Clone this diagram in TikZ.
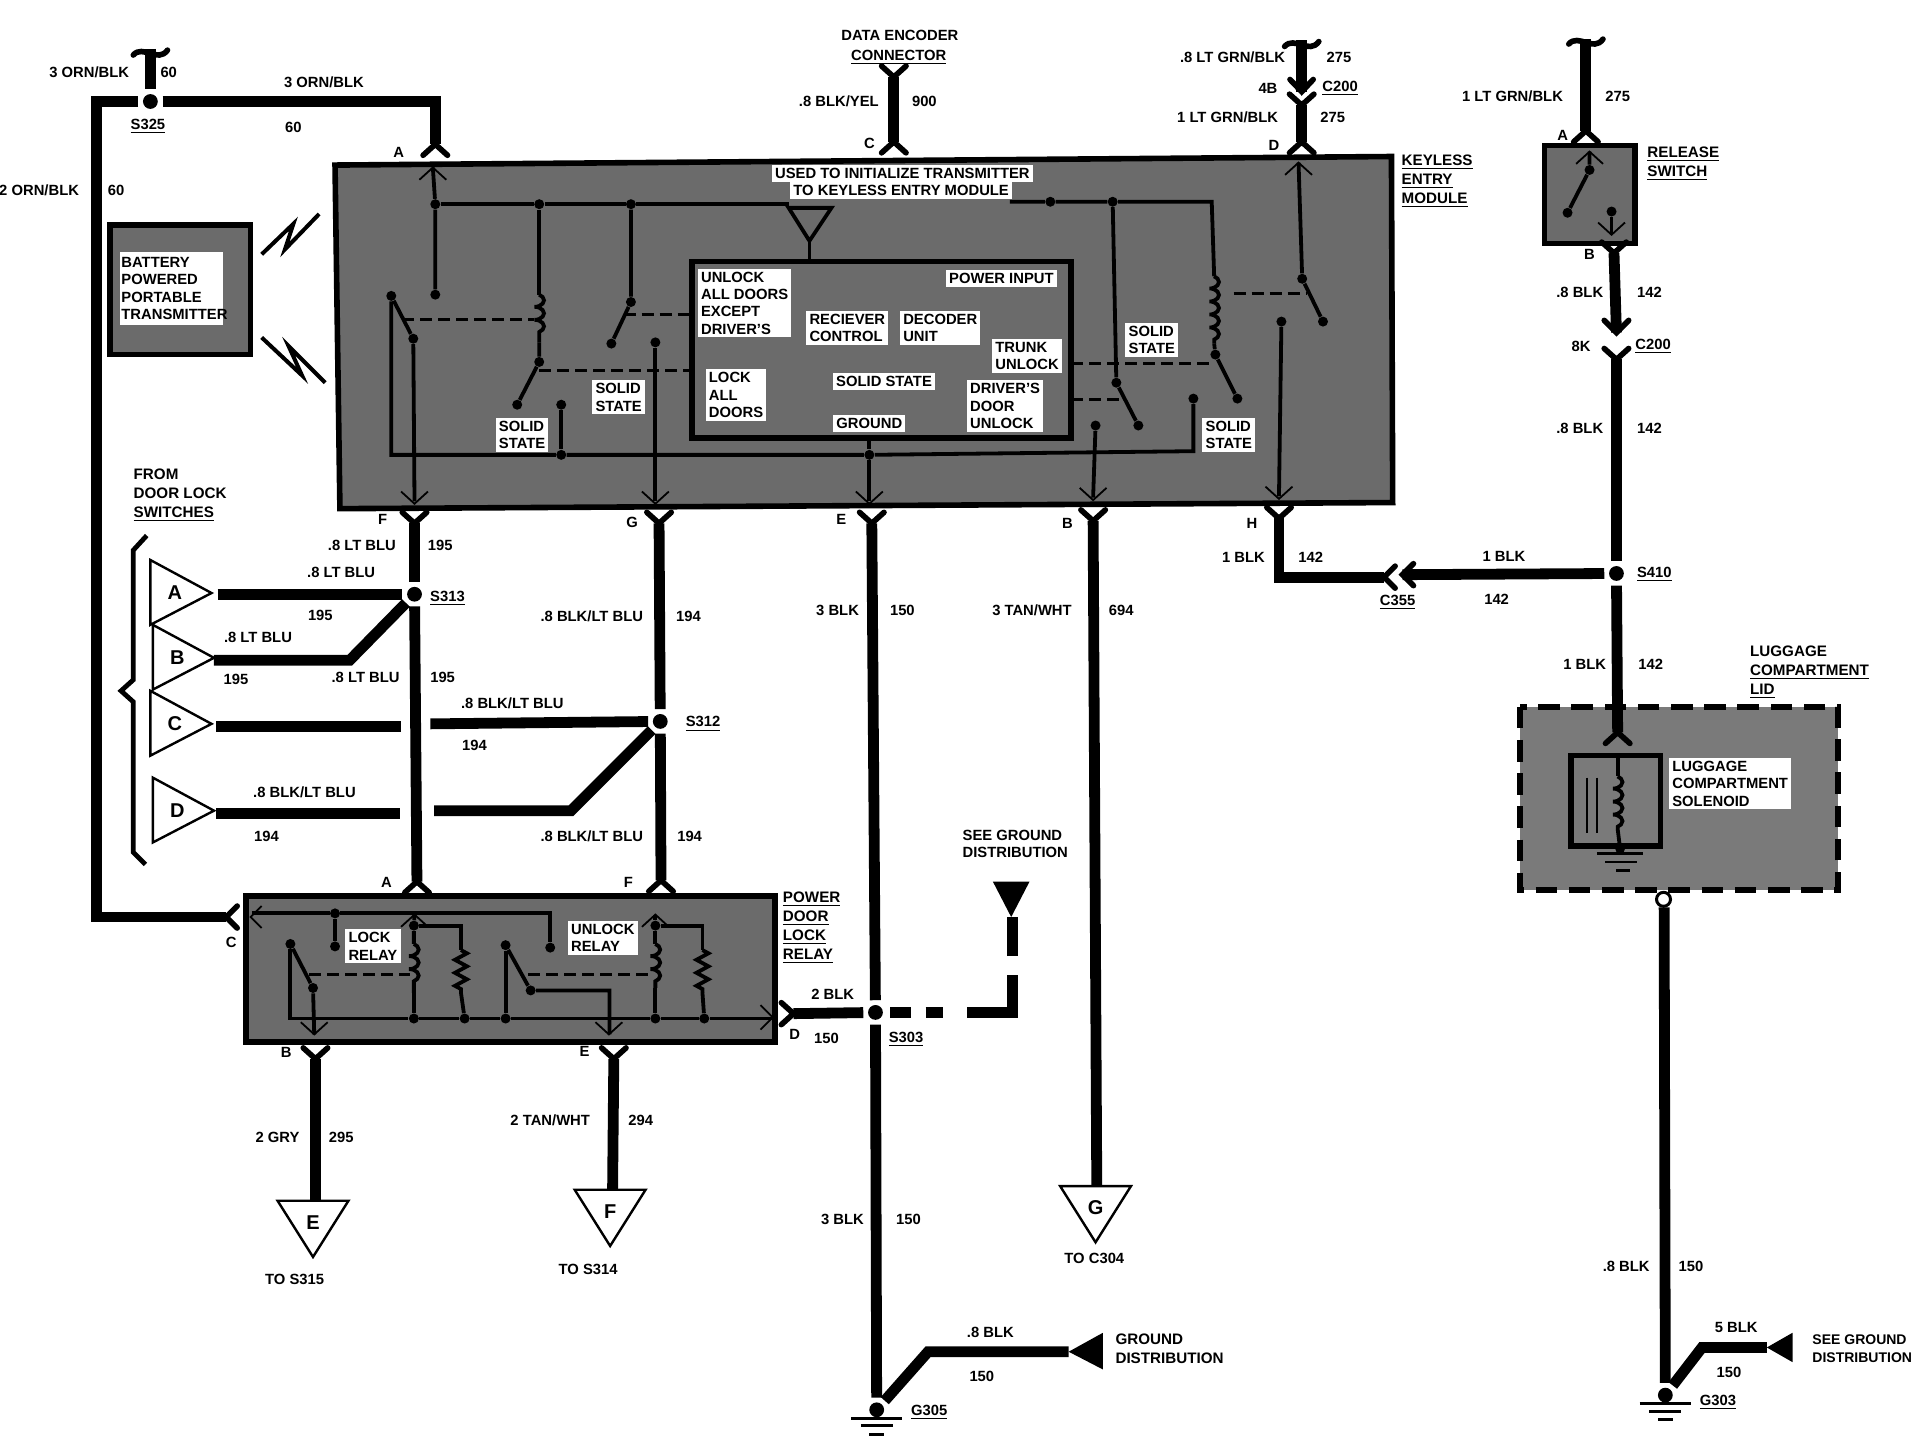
\documentclass[tikz,border=0pt]{standalone}
\usepackage{fontspec}
\setmainfont{Liberation Sans}
\usetikzlibrary{decorations.pathmorphing}

\begin{document}
\begin{tikzpicture}[x=0.6114pt,y=-0.6114pt]
        \tikzstyle{wire}=[line width=5.4pt]
        \tikzstyle{thinw}=[line width=1.9pt]
        \tikzstyle{dashw}=[line width=1.5pt, dash pattern=on 6pt off 3pt]
        \tikzstyle{prong}=[line width=2.8pt, line cap=round, line join=miter]
        \tikzstyle{inprong}=[line width=0.9pt]
        \tikzstyle{splice}=[circle, fill=black, minimum size=7.4pt, inner sep=0pt, outer sep=2.4pt]
        \tikzstyle{jct}=[circle, fill=black, minimum size=5pt, inner sep=0pt]
        \tikzstyle{modbox}=[draw, line width=2.8pt, fill=black!58]
        \tikzstyle{lbl}=[font=\fontsize{7.4}{8.6}\selectfont\bfseries, inner sep=0pt]
        \tikzstyle{wlbl}=[lbl, fill=white, align=left, inner sep=1.6pt]
        \tikzstyle{ttl}=[font=\fontsize{7.6}{9.5}\selectfont\bfseries, inner sep=0pt, align=left, anchor=west]
        \tikzstyle{toff}=[draw, line width=1.2pt, fill=white]
        \tikzstyle{coilw}=[thinw, decorate, decoration={coil, aspect=0.5, segment length=6.5pt, amplitude=2.4pt}]
        \tikzstyle{resw}=[thinw, decorate, decoration={zigzag, segment length=6.5pt, amplitude=3pt}]

        \useasboundingbox (0,0) rectangle (1567,1177.6);

        % Draw boxes
        \draw[modbox] (274,135) -- (1138,128) -- (1139,411) -- (278,416) -- cycle;
        \draw[modbox] (201,733) rectangle (634,852);
        \draw[modbox] (1263,119) rectangle (1337,199);
        \draw[modbox] (90,184) rectangle (205,290);
        \draw[line width=3pt, fill=black!52, dash pattern=on 10.8pt off 5.8pt] (1243,578) rectangle (1503,728);

        % Add prongs, wire coming from below
        \foreach \n/\x/\y in {pF/339/428, pG/539/428, pE/713/428, pB/894/426, pH/1046/424,
            pRelB/258/866, pRelE/502/866, pSwB/1320/207, pData/731/63, pCtA/1064.6/86, pCtB/1322/294} {
            \coordinate (\n) at (\x,\y);
            \draw[prong] (\x-10,\y-9) -- (\x,\y) -- (\x+10,\y-9);
        }
        % Add prongs, wire coming from above
        \foreach \n/\x/\y in {pA/356/118, pC/731/116, pD/1064.6/116, pRelA/341/721, pRelF/540.6/720,
            pSwA/1297/107, pLid/1323/599} {
            \coordinate (\n) at (\x,\y);
            \draw[prong] (\x-10,\y+9) -- (\x,\y) -- (\x+10,\y+9);
        }
        % Add arrow prongs, wire ends on the point
        \draw[prong] (1055,65) -- (1064.6,75) -- (1074,65);
        \coordinate (pCtT) at (1064.6,75);
        \draw[prong] (1312,262) -- (1322,272) -- (1332,262);
        \coordinate (pCbT) at (1322,272);
        \draw[prong] (1156,461) -- (1147,470) -- (1156,479);
        \coordinate (pLT) at (1147,470);
        \draw[prong] (1141,463) -- (1132,472) -- (1141,481);
        \coordinate (pLB) at (1132,472);
        \draw[prong] (194,741) -- (185,750) -- (194,759);
        \coordinate (pRelC) at (185,750);
        \draw[prong] (639,820) -- (649,829) -- (639,838);
        \coordinate (pRelD) at (649,829);

        % Thin prongs inside the boxes
        \foreach \x/\y in {339/412, 536/412, 711/412, 894/409, 1046/408, 257/846, 498/846, 1318/192}
            \draw[inprong] (\x-11,\y-10) -- (\x,\y) -- (\x+11,\y-10);
        \foreach \x/\y in {354/137, 1062/133, 339/748, 536/748, 1300/124}
            \draw[inprong] (\x-11,\y+10) -- (\x,\y) -- (\x+11,\y+10);
        \draw[inprong] (214,741) -- (205,750) -- (214,759);
        \draw[inprong] (622,822) -- (632,832) -- (622,842);

        % Splices
        \node[splice] (s325) at (123,83) {};
        \node[splice] (s313) at (339,486) {};
        \node[splice] (s312) at (540,590) {};
        \node[splice] (s303) at (716,828) {};
        \node[splice] (s410) at (1322,469) {};
        \node[splice] (g305) at (717,1153) {};
        \node[splice] (g303) at (1362,1141) {};

        % Free ends and bends of wires
        \coordinate (topA) at (123,40);
        \coordinate (topB) at (1064.6,33);
        \coordinate (topC) at (1297,32);
        \coordinate (cnrA) at (79,83);
        \coordinate (cnrB) at (79,750);
        \coordinate (cnrC) at (356,83);
        \coordinate (cnrH) at (1046,472);
        \coordinate (swA) at (178,486);
        \coordinate (swB) at (175,540);
        \coordinate (kneeB) at (286,540);
        \coordinate (swC) at (177,594);
        \coordinate (swCe) at (328,594);
        \coordinate (swCr) at (352,592);
        \coordinate (swD) at (177,665);
        \coordinate (swDe) at (327,665);
        \coordinate (swDr) at (355,663);
        \coordinate (kneeD) at (467,663);
        \coordinate (triE) at (258,982);
        \coordinate (triF) at (501,973);
        \coordinate (triG) at (897,970);
        \coordinate (kneeG) at (759,1105.5);
        \coordinate (triGd) at (874,1105.5);
        \coordinate (kneeH) at (1392,1102);
        \coordinate (triHd) at (1445,1102);
        \coordinate (lidEnd) at (1361,742);

        % Draw wires
        \draw[wire] (topA) -- (s325);
        \draw[wire] (s325) -- (cnrA) -- (cnrB) -- (pRelC);
        \draw[wire] (s325) -- (cnrC) -- (pA);
        \draw[wire] (pData) -- (pC);
        \draw[wire] (topB) -- (pCtT);
        \draw[wire] (pCtA) -- (pD);
        \draw[wire] (topC) -- (pSwA);
        \draw[wire] (pSwB) -- (pCbT);
        \draw[wire] (pCtB) -- (s410);
        \draw[wire] (s410) -- (pLid);
        \draw[wire] (s410) -- (pLT);
        \draw[wire] (pH) -- (cnrH) -- (pLB);
        \draw[wire] (pF) -- (s313);
        \draw[wire] (s313) -- (pRelA);
        \draw[wire] (swA) -- (s313);
        \draw[wire] (swB) -- (kneeB) -- (s313);
        \draw[wire] (swC) -- (swCe);
        \draw[wire] (swCr) -- (s312);
        \draw[wire] (swD) -- (swDe);
        \draw[wire] (swDr) -- (kneeD) -- (s312);
        \draw[wire] (pG) -- (s312);
        \draw[wire] (s312) -- (pRelF);
        \draw[wire] (pE) -- (s303);
        \draw[wire] (s303) -- (g305);
        \draw[wire] (pRelD) -- (s303);
        \draw[wire] (pB) -- (triG);
        \draw[wire] (pRelB) -- (triE);
        \draw[wire] (pRelE) -- (triF);
        \draw[wire] (g305) -- (kneeG) -- (triGd);
        \draw[wire] (lidEnd) -- (g303);
        \draw[wire] (g303) -- (kneeH) -- (triHd);

        % Dashed ground wire from S303
        \draw[wire] (728,828) -- (745,828);
        \draw[wire] (757,828) -- (771,828);
        \draw[wire, line join=miter] (791,828) -- (828,828) -- (828,797);
        \draw[wire] (828,782) -- (828,750);
        \fill (812,721) -- (842,721) -- (827,750) -- cycle;

        % Wire breaks at the top
        \foreach \x/\y in {123/40, 1064.6/33, 1297/31}
            \draw[line width=2.8pt, line cap=round] (\x-14,\y+5) .. controls (\x-6,\y-4) and (\x+6,\y+12) .. (\x+14,\y+1);

        % Splice tails with triangles
        \fill (874,1105.5) -- (902,1090) -- (902,1120) -- cycle;
        \fill (1445,1102) -- (1466,1090) -- (1466,1114) -- cycle;
        \foreach \n/\x/\y/\l in {tE/256/982/E, tF/499/973/F, tG/896/970/G} {
            \draw[toff] (\x-29,\y) -- (\x+29,\y) -- (\x,\y+46) -- cycle;
            \node[lbl, font=\fontsize{10}{12}\selectfont\bfseries] (\n) at (\x,\y+18) {\l};
        }
        \foreach \n/\x/\y/\l in {tA/123/485/A, tB/125/538/B, tC/123/592/C, tD/125/663/D} {
            \draw[toff] (\x,\y-27) -- (\x+50,\y) -- (\x,\y+26) -- cycle;
            \node[lbl, font=\fontsize{10}{12}\selectfont\bfseries] (\n) at (\x+20,\y) {\l};
        }

        % Brace of the door lock switches
        \draw[line width=2.4pt] (120,438) -- (109,450) -- (109,556) -- (99,565) -- (109,574) -- (109,697) -- (119,707);

        % Grounds
        \foreach \x/\y in {717/1153, 1362/1141} {
            \draw[line width=1.5pt] (\x-21,\y+7) -- (\x+21,\y+7);
            \draw[line width=1.5pt] (\x-13,\y+13) -- (\x+13,\y+13);
            \draw[line width=1.5pt] (\x-6,\y+20) -- (\x+6,\y+20);
        }

        % Lightning of the transmitter
        \draw[line width=2pt] (214,208) -- (240,183) -- (233,204) -- (261,175);
        \draw[line width=2pt] (214,276) -- (247,307) -- (236,283) -- (266,313);

        % Keyless entry module, inner box and antenna
        \draw[line width=2.8pt] (566,214) rectangle (876,358);
        \draw[thinw] (645,170) -- (680,170) -- (662,197) -- cycle;
        \coordinate (ant) at (662,197);
        \coordinate (antB) at (662,214);
        \draw[thinw] (ant) -- (antB);

        \node[jct] (jA) at (356,241) {};
        \node[jct] (bA) at (356,167) {};
        \node[jct] (bB) at (441,167) {};
        \node[jct] (bC) at (516,167) {};
        \node[jct] (bD) at (859,165) {};
        \node[jct] (bE) at (910,165) {};
        \coordinate (inA) at (354,137);
        \coordinate (inD) at (1062,133);
        \coordinate (busL) at (645,167);
        \coordinate (busR) at (826,165);
        \coordinate (busC) at (991,165);
        \coordinate (coilAt) at (441,241);
        \coordinate (coilAb) at (441,280);
        \coordinate (coilBt) at (993,226);
        \coordinate (coilBb) at (993,281);
        \draw[thinw] (inA) -- (bA) -- (jA);
        \draw[thinw] (bA) -- (bB) -- (bC) -- (busL);
        \draw[thinw] (busR) -- (bD) -- (bE) -- (busC) -- (coilBt);
        \draw[thinw] (bB) -- (coilAt);
        \draw[coilw] (coilAt) -- (coilAb);
        \draw[coilw] (coilBt) -- (coilBb);

        \node[jct] (jB) at (320,242) {};
        \node[jct] (jC) at (338,277) {};
        \node[jct] (jD) at (441,296) {};
        \node[jct] (jE) at (423,331) {};
        \node[jct] (jF) at (459,331) {};
        \node[jct] (jG) at (516,247) {};
        \node[jct] (jH) at (500,281) {};
        \node[jct] (jI) at (536,280) {};
        \node[jct] (jJ) at (459,372) {};
        \node[jct] (jK) at (711,372) {};
        \node[jct] (jL) at (913,313) {};
        \node[jct] (jM) at (931,348) {};
        \node[jct] (jN) at (896,348) {};
        \node[jct] (jO) at (994,290) {};
        \node[jct] (jP) at (1012,326) {};
        \node[jct] (jQ) at (976,326) {};
        \node[jct] (jR) at (1065,228) {};
        \node[jct] (jS) at (1082,263) {};
        \node[jct] (jT) at (1048,263) {};
        \coordinate (cnrB1) at (320,372);
        \coordinate (cnrB2) at (976,369);
        \coordinate (inF) at (339,410);
        \coordinate (inG) at (536,410);
        \coordinate (inE) at (711,410);
        \coordinate (inB) at (894,407);
        \coordinate (inH) at (1046,406);
        \coordinate (inbox) at (711,358);
        \draw[thinw] (jB) -- (cnrB1) -- (jJ) -- (jK) -- (cnrB2) -- (jQ);
        \draw[thinw] (jB) -- (jC) -- (inF);
        \draw[thinw] (coilAb) -- (jD) -- (jE);
        \draw[thinw] (jF) -- (jJ);
        \draw[thinw] (bC) -- (jG) -- (jH);
        \draw[thinw] (jI) -- (inG);
        \draw[thinw] (inbox) -- (jK) -- (inE);
        \draw[thinw] (bE) -- (jL) -- (jM);
        \draw[thinw] (jN) -- (inB);
        \draw[thinw] (coilBb) -- (jO) -- (jP);
        \draw[thinw] (inD) -- (jR) -- (jS);
        \draw[thinw] (jT) -- (inH);

        % Dashed links of the relays
        \draw[dashw] (329,261) -- (437,261);
        \draw[dashw] (510,257) -- (566,257);
        \draw[dashw] (441,303) -- (566,303);
        \draw[dashw] (876,297) -- (992,297);
        \draw[dashw] (876,327) -- (917,327);
        \draw[dashw] (1009,240) -- (1068,240);

        % Power door lock relay
        \node[jct] (rA) at (274,747) {};
        \node[jct] (rB) at (274,774) {};
        \node[jct] (rC) at (450,775) {};
        \node[jct] (rD) at (338.5,757) {};
        \node[jct] (rE) at (338.5,833) {};
        \node[jct] (rF) at (380,833) {};
        \node[jct] (rG) at (237.5,772) {};
        \node[jct] (rH) at (256,808) {};
        \node[jct] (rI) at (413.5,773) {};
        \node[jct] (rJ) at (434,810) {};
        \node[jct] (rK) at (413.5,833) {};
        \node[jct] (rL) at (536,757) {};
        \node[jct] (rM) at (536,833) {};
        \node[jct] (rN) at (576,833) {};
        \coordinate (busT) at (206,747);
        \coordinate (busTr) at (450,747);
        \coordinate (busB) at (237.5,833);
        \coordinate (busBr) at (633,833);
        \coordinate (inRA) at (339,748);
        \coordinate (inRF) at (536,748);
        \coordinate (inRB) at (257,846);
        \coordinate (inRE) at (498.5,846);
        \coordinate (rCoilAt) at (338.5,772);
        \coordinate (rCoilAb) at (338.5,812);
        \coordinate (rCoilBt) at (536,772);
        \coordinate (rCoilBb) at (536,808);
        \coordinate (rResAa) at (377,757);
        \coordinate (rResAt) at (377,777);
        \coordinate (rResAb) at (377,812);
        \coordinate (rResBa) at (574.5,757);
        \coordinate (rResBt) at (574.5,777);
        \coordinate (rResBb) at (574.5,812);
        \coordinate (rRight) at (498.5,810);
        \draw[thinw] (busT) -- (rA) -- (busTr) -- (rC);
        \draw[thinw] (rA) -- (rB);
        \draw[thinw] (inRA) -- (rD) -- (rCoilAt);
        \draw[coilw] (rCoilAt) -- (rCoilAb);
        \draw[thinw] (rCoilAb) -- (rE);
        \draw[thinw] (rD) -- (rResAa) -- (rResAt);
        \draw[resw] (rResAt) -- (rResAb);
        \draw[thinw] (rResAb) -- (rF);
        \draw[thinw] (rG) -- (busB) -- (rE) -- (rF) -- (rK) -- (rM) -- (rN) -- (busBr);
        \draw[thinw] (rG) -- (rH) -- (inRB);
        \draw[thinw] (rI) -- (rJ) -- (rRight) -- (inRE);
        \draw[thinw] (rI) -- (rK);
        \draw[thinw] (inRF) -- (rL) -- (rCoilBt);
        \draw[coilw] (rCoilBt) -- (rCoilBb);
        \draw[thinw] (rCoilBb) -- (rM);
        \draw[thinw] (rL) -- (rResBa) -- (rResBt);
        \draw[resw] (rResBt) -- (rResBb);
        \draw[thinw] (rResBb) -- (rN);
        \draw[dashw] (253,797) -- (335,797);
        \draw[dashw] (432,797) -- (532,797);

        % Release switch
        \node[jct] (wA) at (1300,139) {};
        \node[jct] (wB) at (1282,174) {};
        \node[jct] (wC) at (1318,173) {};
        \coordinate (inSwA) at (1300,124);
        \coordinate (inSwB) at (1318,192);
        \draw[thinw] (inSwA) -- (wA) -- (wB);
        \draw[thinw] (wC) -- (inSwB);

        % Luggage compartment solenoid
        \draw[line width=2.8pt] (1285,618) rectangle (1358,692);
        \node[jct] (lA) at (1325,694) {};
        \coordinate (lT) at (1323,617);
        \coordinate (lCt) at (1323,635);
        \coordinate (lCb) at (1323,678);
        \draw[thinw] (lT) -- (lCt);
        \draw[coilw] (lCt) -- (lCb);
        \draw[thinw] (lCb) -- (lA);
        \draw[line width=1pt] (1298,636) -- (1298,681);
        \draw[line width=1pt] (1306,636) -- (1306,681);
        \draw[line width=1.2pt] (1306,698) -- (1344,698);
        \draw[line width=1.2pt] (1313,705) -- (1339,705);
        \draw[line width=1.2pt] (1322,712) -- (1333,712);
        \node[circle, draw, line width=1.5pt, fill=white, minimum size=7pt, inner sep=0pt] (lidPin) at (1360.5,735.5) {};

        % White labels in the boxes
        \foreach \x/\y/\txt [count=\i] in {
            738/142/{USED TO INITIALIZE TRANSMITTER},
            737/156/{TO KEYLESS ENTRY MODULE},
            609/248/{UNLOCK\\ALL DOORS\\EXCEPT\\DRIVER'S},
            819/228/{POWER INPUT},
            693/268/{RECIEVER\\CONTROL},
            769/268/{DECODER\\UNIT},
            840/291/{TRUNK\\UNLOCK},
            602/323/{LOCK\\ALL\\DOORS},
            723/312/{SOLID STATE},
            822/332/{DRIVER'S\\DOOR\\UNLOCK},
            711/346/{GROUND},
            427/356/{SOLID\\STATE},
            506/325/{SOLID\\STATE},
            942/278/{SOLID\\STATE},
            1005/356/{SOLID\\STATE},
            305/774/{LOCK\\RELAY},
            493/767/{UNLOCK\\RELAY},
            1415/641/{LUGGAGE\\COMPARTMENT\\SOLENOID}}
            \node[wlbl] (box\i) at (\x,\y) {\txt};

        % Transmitter text runs over its white patch
        \fill[white] (98,206) rectangle (182,266);
        \node[lbl, align=left, anchor=west] (txlab) at (99,236) {BATTERY\\POWERED\\PORTABLE\\TRANSMITTER};

        % Wire and connector labels
        \foreach \x/\y/\txt [count=\i] in {
            73/59/{3 ORN/BLK}, 138/59/{60}, 265/67/{3 ORN/BLK}, 240/104/{60}, 121/103/{\underline{S325}},
            32/156/{2 ORN/BLK}, 95/156/{60}, 326/125/{A}, 711/117/{C}, 1042/119/{D},
            736/29/{DATA ENCODER}, 735/47/{\underline{CONNECTOR}}, 686/83/{.8 BLK/YEL}, 756/83/{900},
            1008/47/{.8 LT GRN/BLK}, 1095/47/{275}, 1037/72/{4B}, 1096/72/{\underline{C200}},
            1004/96/{1 LT GRN/BLK}, 1090/96/{275},
            1237/79/{1 LT GRN/BLK}, 1323/79/{275}, 1278/111/{A}, 1300/208/{B},
            1292/239/{.8 BLK}, 1349/239/{142}, 1293/283/{8K}, 1352/283/{\underline{C200}},
            1292/350/{.8 BLK}, 1349/350/{142}, 1353/470/{\underline{S410}},
            1230/455/{1 BLK}, 1224/490/{142}, 1143/493/{\underline{C355}},
            1024/428/{H}, 1017/456/{1 BLK}, 1072/456/{142},
            1296/543/{1 BLK}, 1350/543/{142},
            1330/1036/{.8 BLK}, 1383/1036/{150}, 1420/1086/{5 BLK}, 1414/1122/{150}, 1405/1147/{\underline{G303}},
            313/425/{F}, 296/446/{.8 LT BLU}, 360/446/{195}, 279/468/{.8 LT BLU}, 262/503/{195},
            366/489/{\underline{S313}}, 211/521/{.8 LT BLU}, 193/556/{195}, 299/554/{.8 LT BLU}, 362/554/{195},
            419/575/{.8 BLK/LT BLU}, 388/610/{194}, 249/648/{.8 BLK/LT BLU}, 218/684/{194},
            517/427/{G}, 484/504/{.8 BLK/LT BLU}, 563/504/{194}, 575/592/{\underline{S312}},
            484/684/{.8 BLK/LT BLU}, 564/684/{194}, 316/722/{A}, 514/722/{F}, 189/771/{C},
            234/861/{B}, 478/860/{E}, 227/930/{2 GRY}, 279/930/{295}, 450/916/{2 TAN/WHT}, 524/916/{294},
            241/1046/{TO S315}, 481/1038/{TO S314},
            688/425/{E}, 685/499/{3 BLK}, 738/499/{150}, 873/428/{B}, 844/499/{3 TAN/WHT}, 917/499/{694},
            650/846/{D}, 681/813/{2 BLK}, 676/849/{150}, 741/850/{\underline{S303}},
            689/997/{3 BLK}, 743/997/{150}, 810/1090/{.8 BLK}, 803/1126/{150}, 760/1155/{\underline{G305}},
            895/1029/{TO C304}}
            \node[lbl] (lab\i) at (\x,\y) {\txt};

        % Left aligned titles
        \foreach \x/\y/\txt [count=\i] in {
            1146/148/{\underline{KEYLESS}\\\underline{ENTRY}\\\underline{MODULE}},
            1347/134/{\underline{RELEASE}\\\underline{SWITCH}},
            1431/550/{LUGGAGE\\\underline{COMPARTMENT}\\\underline{LID}},
            109/405/{FROM\\DOOR LOCK\\\underline{SWITCHES}},
            640/759/{\underline{POWER}\\\underline{DOOR}\\\underline{LOCK}\\\underline{RELAY}},
            912/1103/{GROUND\\DISTRIBUTION}}
            \node[ttl] (title\i) at (\x,\y) {\txt};
        \node[lbl, align=left, anchor=west] (seeA) at (787,690) {SEE GROUND\\DISTRIBUTION};
        \node[lbl, align=left, anchor=west, font=\fontsize{7}{8.6}\selectfont\bfseries] (seeB) at (1482,1103) {SEE GROUND\\DISTRIBUTION};
\end{tikzpicture}
\end{document}
